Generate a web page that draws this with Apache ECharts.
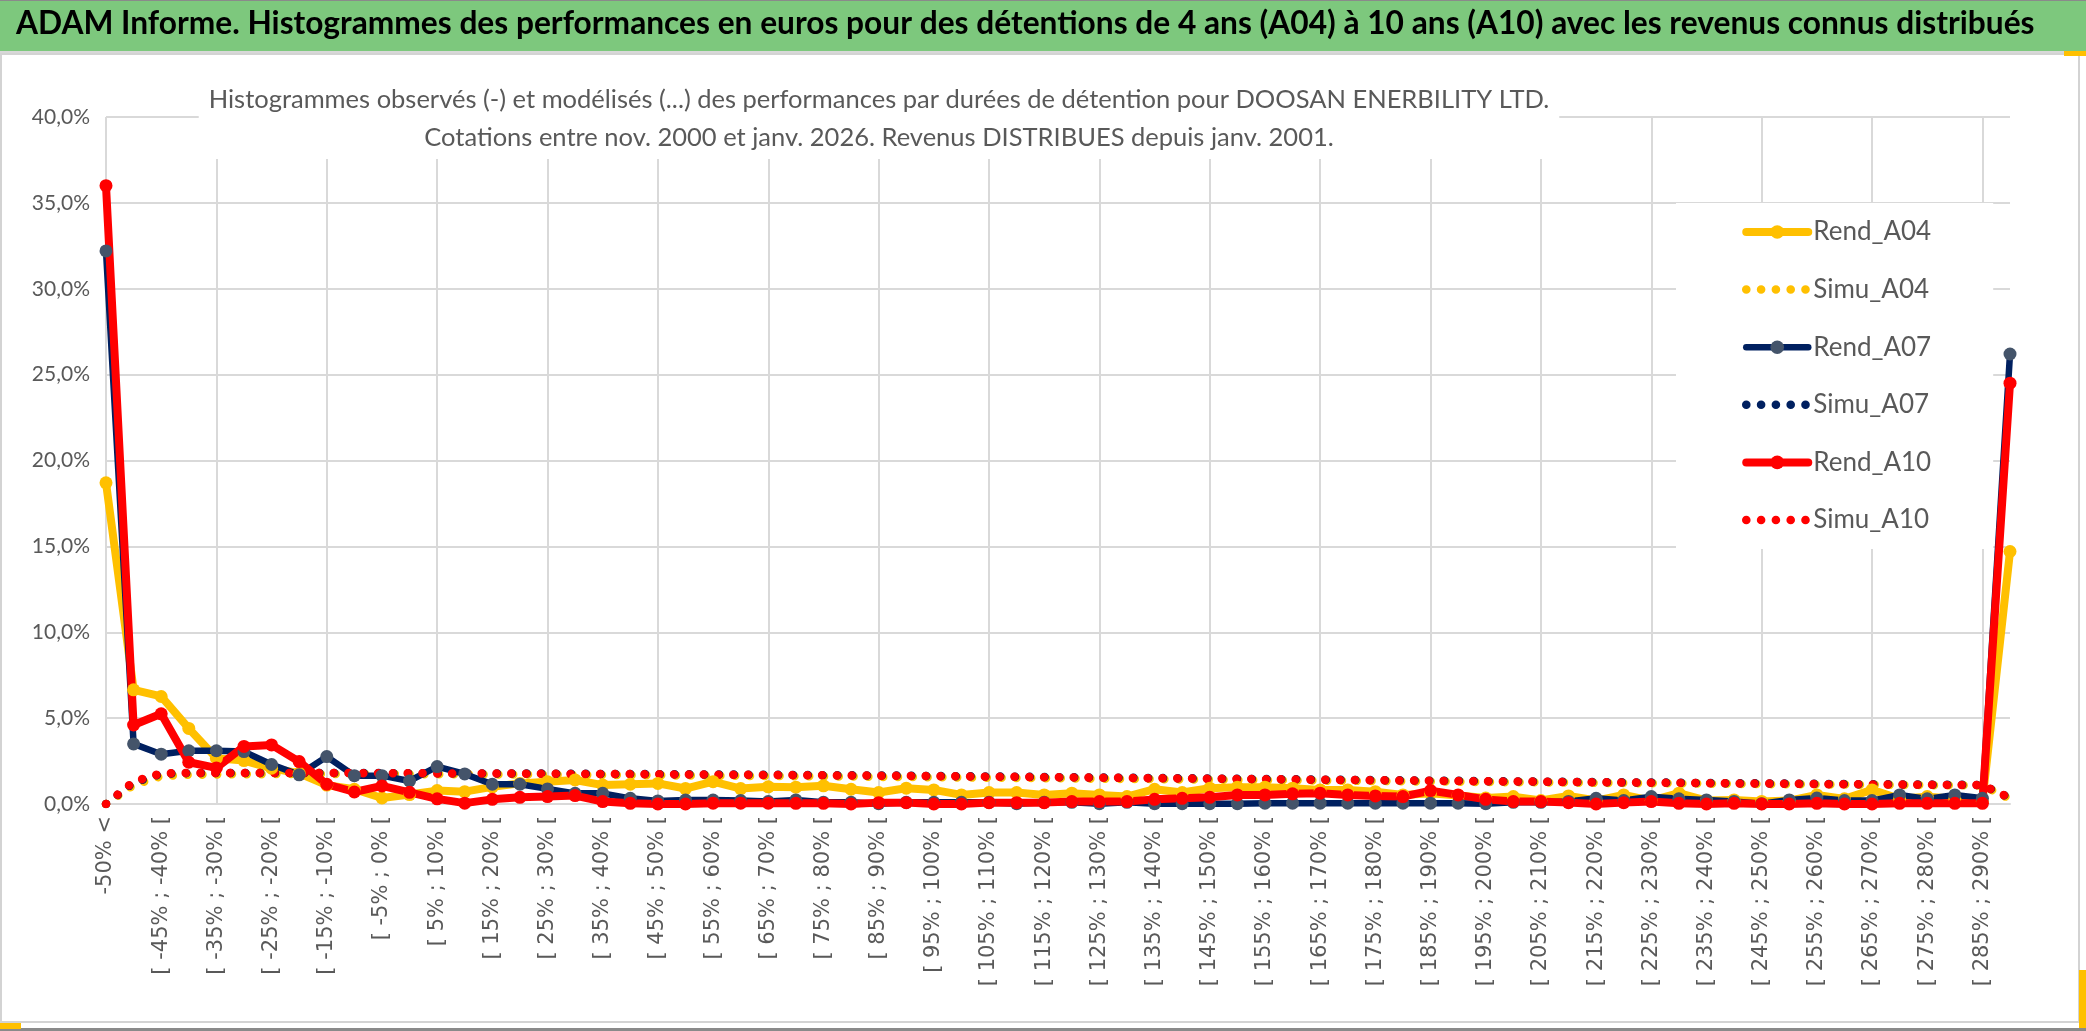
<!DOCTYPE html>
<html><head><meta charset="utf-8">
<script src="https://cdn.jsdelivr.net/npm/echarts@6/dist/echarts.min.js"></script>
<style>html,body{margin:0;padding:0;background:#fff;overflow:hidden}#c{width:2086px;height:1031px}</style>
</head><body><div id="c"></div>
<script>
const FONT = "Lato, 'Liberation Sans', sans-serif";

const mainTitle = 'ADAM Informe. Histogrammes des performances en euros pour des détentions de 4 ans (A04) à 10 ans (A10) avec les revenus connus distribués';
const subTitle = 'Histogrammes observés (-) et modélisés (...) des performances par durées de détention pour DOOSAN ENERBILITY LTD.\nCotations entre nov. 2000 et janv. 2026. Revenus DISTRIBUES depuis janv. 2001.';

const categories = [
  "-50% <",
  "[ -50% ; -45% [", "[ -45% ; -40% [", "[ -40% ; -35% [", "[ -35% ; -30% [", "[ -30% ; -25% [",
  "[ -25% ; -20% [", "[ -20% ; -15% [", "[ -15% ; -10% [", "[ -10% ; -5% [", "[ -5% ; 0% [",
  "[ 0% ; 5% [", "[ 5% ; 10% [", "[ 10% ; 15% [", "[ 15% ; 20% [", "[ 20% ; 25% [",
  "[ 25% ; 30% [", "[ 30% ; 35% [", "[ 35% ; 40% [", "[ 40% ; 45% [", "[ 45% ; 50% [",
  "[ 50% ; 55% [", "[ 55% ; 60% [", "[ 60% ; 65% [", "[ 65% ; 70% [", "[ 70% ; 75% [",
  "[ 75% ; 80% [", "[ 80% ; 85% [", "[ 85% ; 90% [", "[ 90% ; 95% [", "[ 95% ; 100% [",
  "[ 100% ; 105% [", "[ 105% ; 110% [", "[ 110% ; 115% [", "[ 115% ; 120% [", "[ 120% ; 125% [",
  "[ 125% ; 130% [", "[ 130% ; 135% [", "[ 135% ; 140% [", "[ 140% ; 145% [", "[ 145% ; 150% [",
  "[ 150% ; 155% [", "[ 155% ; 160% [", "[ 160% ; 165% [", "[ 165% ; 170% [", "[ 170% ; 175% [",
  "[ 175% ; 180% [", "[ 180% ; 185% [", "[ 185% ; 190% [", "[ 190% ; 195% [", "[ 195% ; 200% [",
  "[ 200% ; 205% [", "[ 205% ; 210% [", "[ 210% ; 215% [", "[ 215% ; 220% [", "[ 220% ; 225% [",
  "[ 225% ; 230% [", "[ 230% ; 235% [", "[ 235% ; 240% [", "[ 240% ; 245% [", "[ 245% ; 250% [",
  "[ 250% ; 255% [", "[ 255% ; 260% [", "[ 260% ; 265% [", "[ 265% ; 270% [", "[ 270% ; 275% [",
  "[ 275% ; 280% [", "[ 280% ; 285% [", "[ 285% ; 290% [",
  "290% >"
];

// values in percent
const rendA04 = [
  18.7, 6.65, 6.26, 4.4, 2.67, 2.53, 2.08, 1.79, 1.1, 0.86,
  0.35, 0.55, 0.78, 0.72, 1.0, 1.2, 1.3, 1.4, 1.1, 1.15,
  1.2, 0.9, 1.3, 0.9, 1.0, 0.98, 1.06, 0.86, 0.67, 0.92,
  0.82, 0.53, 0.67, 0.67, 0.53, 0.63, 0.53, 0.43, 0.86, 0.67,
  0.92, 0.98, 0.98, 0.92, 0.82, 0.82, 0.72, 0.53, 0.63, 0.5,
  0.35, 0.43, 0.2, 0.47, 0.2, 0.53, 0.2, 0.63, 0.2, 0.24,
  0.15, 0.2, 0.53, 0.3, 0.82, 0.3, 0.43, 0.3, 0.15, 14.7
];
const simuA04 = [
  0.0, 1.1, 1.62, 1.7, 1.72, 1.73, 1.74, 1.74, 1.74, 1.74,
  1.74, 1.74, 1.73, 1.73, 1.72, 1.72, 1.71, 1.7, 1.69, 1.68,
  1.67, 1.66, 1.65, 1.64, 1.63, 1.62, 1.61, 1.6, 1.58, 1.57,
  1.56, 1.54, 1.53, 1.52, 1.5, 1.49, 1.47, 1.46, 1.45, 1.43,
  1.42, 1.4, 1.39, 1.38, 1.36, 1.35, 1.34, 1.32, 1.31, 1.3,
  1.28, 1.27, 1.26, 1.25, 1.23, 1.22, 1.21, 1.2, 1.19, 1.17,
  1.16, 1.15, 1.14, 1.13, 1.12, 1.11, 1.1, 1.09, 1.08, 0.3
];
const rendA07 = [
  32.2, 3.5, 2.9, 3.1, 3.1, 3.05, 2.3, 1.7, 2.76, 1.65,
  1.65, 1.34, 2.18, 1.75, 1.15, 1.15, 0.88, 0.62, 0.62, 0.33,
  0.18, 0.23, 0.23, 0.2, 0.14, 0.24, 0.1, 0.1, 0.02, 0.1,
  0.1, 0.1, 0.1, 0.02, 0.1, 0.1, 0.02, 0.1, 0.02, 0.02,
  0.02, 0.02, 0.05, 0.05, 0.05, 0.05, 0.05, 0.05, 0.05, 0.05,
  0.02, 0.1, 0.1, 0.15, 0.33, 0.2, 0.43, 0.3, 0.24, 0.15,
  0.02, 0.24, 0.35, 0.2, 0.2, 0.53, 0.3, 0.53, 0.33, 26.2
];
const simuA07 = [
  0.0, 1.25, 1.75, 1.8, 1.8, 1.8, 1.8, 1.8, 1.8, 1.8,
  1.8, 1.79, 1.79, 1.78, 1.78, 1.77, 1.77, 1.76, 1.75, 1.75,
  1.74, 1.73, 1.72, 1.71, 1.7, 1.69, 1.68, 1.67, 1.66, 1.65,
  1.63, 1.62, 1.6, 1.59, 1.57, 1.56, 1.54, 1.53, 1.51, 1.5,
  1.48, 1.47, 1.45, 1.44, 1.42, 1.41, 1.39, 1.38, 1.36, 1.35,
  1.33, 1.32, 1.3, 1.29, 1.28, 1.26, 1.25, 1.24, 1.22, 1.21,
  1.2, 1.19, 1.17, 1.16, 1.15, 1.14, 1.13, 1.12, 1.1, 0.35
];
const rendA10 = [
  36.0, 4.6, 5.25, 2.43, 2.1, 3.35, 3.44, 2.47, 1.15, 0.7,
  1.05, 0.68, 0.3, 0.05, 0.27, 0.39, 0.43, 0.49, 0.14, 0.04,
  0.0, 0.0, 0.05, 0.05, 0.05, 0.04, 0.04, 0.0, 0.08, 0.08,
  0.0, 0.0, 0.08, 0.08, 0.08, 0.14, 0.14, 0.14, 0.27, 0.33,
  0.39, 0.53, 0.53, 0.59, 0.63, 0.53, 0.47, 0.43, 0.78, 0.53,
  0.27, 0.14, 0.14, 0.08, 0.0, 0.08, 0.14, 0.04, 0.0, 0.04,
  0.0, 0.0, 0.04, 0.0, 0.0, 0.04, 0.04, 0.04, 0.04, 24.5
];
const simuA10 = [
  0.0, 1.3, 1.78, 1.81, 1.81, 1.81, 1.8, 1.8, 1.8, 1.8,
  1.79, 1.79, 1.78, 1.78, 1.77, 1.77, 1.76, 1.75, 1.75, 1.74,
  1.73, 1.72, 1.71, 1.7, 1.69, 1.68, 1.67, 1.66, 1.65, 1.64,
  1.62, 1.61, 1.59, 1.58, 1.56, 1.55, 1.53, 1.52, 1.5, 1.49,
  1.47, 1.46, 1.44, 1.43, 1.41, 1.4, 1.38, 1.37, 1.35, 1.34,
  1.32, 1.31, 1.3, 1.28, 1.27, 1.25, 1.24, 1.23, 1.21, 1.2,
  1.19, 1.18, 1.16, 1.15, 1.14, 1.13, 1.12, 1.11, 1.1, 0.35
];

const YELLOW = '#FFC000', NAVY = '#002060', NAVY_MARK = '#44546A', RED = '#FF0000';
const DOTS = [0.1, 14.7];

function rend(name, data, lineColor, markColor, width) {
  return {
    name, type: 'line', data, symbol: 'circle', symbolSize: 13, showSymbol: true,
    lineStyle: { color: lineColor, width, cap: 'round', join: 'round' },
    itemStyle: { color: markColor, borderWidth: 0 },
    emphasis: { disabled: true }, animation: false
  };
}
function simu(name, data, color) {
  return {
    name, type: 'line', data, symbol: 'none', showSymbol: false,
    lineStyle: { color, width: 8.5, type: DOTS, cap: 'round' },
    itemStyle: { color },
    emphasis: { disabled: true }, animation: false
  };
}

const chart = echarts.init(document.getElementById('c'));
chart.setOption({
  animation: false,
  backgroundColor: '#ffffff',
  graphic: [
    { type: 'rect', z: -10, shape: { x: 0, y: 0, width: 2086, height: 51 }, style: { fill: '#7dc87d' } },
    { type: 'rect', z: -10, shape: { x: 0, y: 0, width: 2086, height: 1 }, style: { fill: '#8a8a8a' } },
    { type: 'rect', z: -10, shape: { x: 0, y: 51, width: 2086, height: 3 }, style: { fill: '#d8d8d8' } },
    { type: 'rect', z: -10, shape: { x: 1, y: 54, width: 2078, height: 968 }, style: { fill: 'none', stroke: '#d3d3d3', lineWidth: 2 } },
    { type: 'rect', z: -10, shape: { x: 0, y: 1028, width: 2086, height: 3 }, style: { fill: '#8a8a8a' } },
    { type: 'rect', z: -10, shape: { x: 0, y: 1023, width: 21, height: 6 }, style: { fill: '#FFC000' } },
    { type: 'rect', z: -10, shape: { x: 2064, y: 51, width: 22, height: 5 }, style: { fill: '#FFC000' } },
    { type: 'rect', z: -10, shape: { x: 2079, y: 970, width: 7, height: 58 }, style: { fill: '#FFC000' } }
  ],
  title: [
    {
      text: mainTitle, left: 16, top: 8, padding: 0,
      textStyle: { fontSize: 31.7, fontWeight: 'bold', color: '#000000', fontFamily: FONT }
    },
    {
      text: subTitle, left: 869, top: 79, textAlign: 'center',
      backgroundColor: '#ffffff', padding: [2, 10, 2, 10],
      textStyle: { fontSize: 25.5, lineHeight: 38, color: '#595959', fontWeight: 'normal', fontFamily: FONT, align: 'center' }
    }
  ],
  legend: {
    orient: 'vertical', left: 1676, top: 203,
    backgroundColor: '#ffffff', padding: [14, 62, 14, 66],
    itemWidth: 62, itemHeight: 17, itemGap: 27.6,
    selectedMode: false,
    textStyle: { fontSize: 26, color: '#595959', fontFamily: FONT, lineHeight: 30 },
    lineStyle: { width: 'inherit' },
    data: [
      { name: 'Rend_A04' },
      { name: 'Simu_A04', itemStyle: { opacity: 0 } },
      { name: 'Rend_A07' },
      { name: 'Simu_A07', itemStyle: { opacity: 0 } },
      { name: 'Rend_A10' },
      { name: 'Simu_A10', itemStyle: { opacity: 0 } }
    ]
  },
  grid: { left: 106, right: 76, top: 117, bottom: 227, containLabel: false },
  xAxis: {
    type: 'category', data: categories, boundaryGap: false,
    axisLine: { show: true, lineStyle: { color: '#d9d9d9', width: 2 } },
    axisTick: { show: false },
    axisLabel: { interval: 1, rotate: 90, margin: 12, fontSize: 21, color: '#595959', fontFamily: "'DejaVu Sans',sans-serif" },
    splitLine: { show: true, interval: 3, lineStyle: { color: '#d9d9d9', width: 2 } }
  },
  yAxis: {
    type: 'value', min: 0, max: 40, interval: 5,
    axisLine: { show: false }, axisTick: { show: false },
    axisLabel: {
      margin: 16, fontSize: 21, color: '#595959', fontFamily: FONT,
      formatter: v => v.toFixed(1).replace('.', ',') + '%'
    },
    splitLine: { show: true, lineStyle: { color: '#d9d9d9', width: 2 } }
  },
  series: [
    rend('Rend_A04', rendA04, YELLOW, YELLOW, 8),
    simu('Simu_A04', simuA04, YELLOW),
    rend('Rend_A07', rendA07, NAVY, NAVY_MARK, 6.5),
    simu('Simu_A07', simuA07, NAVY),
    rend('Rend_A10', rendA10, RED, RED, 8),
    simu('Simu_A10', simuA10, RED)
  ]
});
</script>
</body></html>
